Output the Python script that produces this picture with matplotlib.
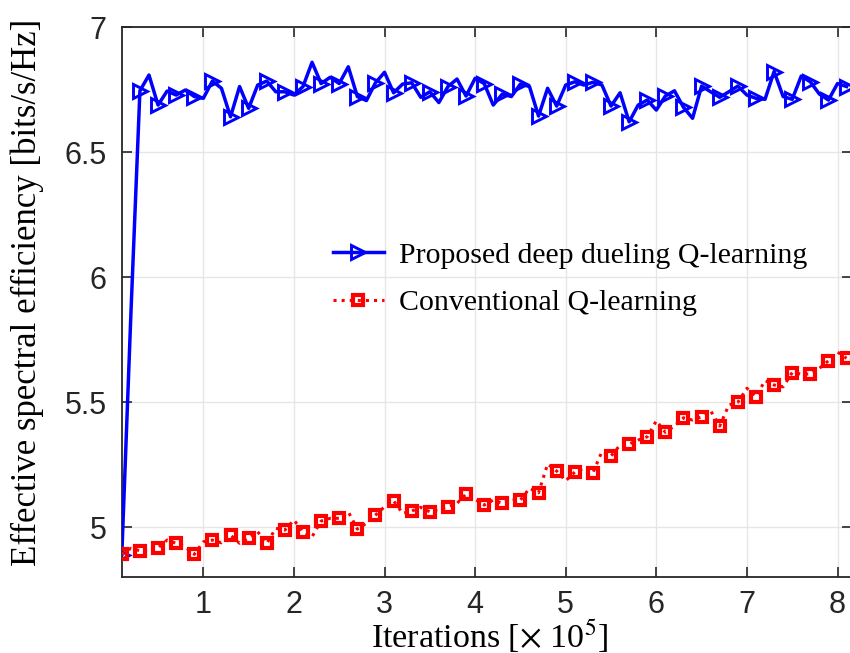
import numpy as np
import matplotlib
matplotlib.use("Agg")
import matplotlib.pyplot as plt

# x: iterations (x 10^5)
iterations = np.round(np.arange(0.1, 8.1001, 0.1), 1)

proposed = [4.89, 5.85, 6.746, 6.809, 6.689, 6.745, 6.729, 6.749, 6.723, 6.716,
            6.785, 6.756, 6.642, 6.763, 6.676, 6.769, 6.785, 6.742, 6.742, 6.729,
            6.763, 6.860, 6.775, 6.800, 6.775, 6.842, 6.723, 6.707, 6.778, 6.820,
            6.738, 6.773, 6.778, 6.720, 6.742, 6.699, 6.763, 6.793, 6.725, 6.796,
            6.775, 6.689, 6.733, 6.723, 6.773, 6.763, 6.645, 6.756, 6.685, 6.769,
            6.782, 6.769, 6.780, 6.769, 6.685, 6.738, 6.622, 6.689, 6.709, 6.669,
            6.725, 6.746, 6.680, 6.636, 6.765, 6.742, 6.720, 6.742, 6.765, 6.729,
            6.716, 6.712, 6.823, 6.723, 6.712, 6.805, 6.782, 6.733, 6.709, 6.775,
            6.763]

conventional = [4.893, 4.916, 4.906, 4.902, 4.918, 4.949, 4.936, 4.922, 4.892, 4.942,
                4.949, 4.938, 4.969, 4.936, 4.958, 4.982, 4.936, 4.996, 4.989, 5.029,
                4.982, 4.962, 5.025, 5.036, 5.036, 5.062, 4.993, 5.016, 5.049, 5.082,
                5.106, 5.056, 5.065, 5.080, 5.062, 5.072, 5.082, 5.096, 5.133, 5.112,
                5.089, 5.109, 5.096, 5.112, 5.109, 5.156, 5.138, 5.253, 5.225, 5.186,
                5.221, 5.236, 5.218, 5.303, 5.285, 5.329, 5.333, 5.349, 5.362, 5.426,
                5.380, 5.405, 5.438, 5.429, 5.442, 5.466, 5.405, 5.489, 5.500, 5.556,
                5.523, 5.587, 5.569, 5.562, 5.619, 5.613, 5.613, 5.636, 5.666, 5.701,
                5.676]

series_labels = ["Proposed deep dueling Q-learning", "Conventional Q-learning"]
x_ticks = [1, 2, 3, 4, 5, 6, 7, 8]
y_ticks = [5, 5.5, 6, 6.5, 7]
y_tick_labels = ["5", "5.5", "6", "6.5", "7"]

plt.rcParams['mathtext.fontset'] = 'stix'

fig = plt.figure(figsize=(8.5, 6.53), dpi=100)
W, H = 850, 653
left_px, right_px, top_px, bottom_px = 121.8, 852.0, 27.3, 577.3
ax_w, ax_h = right_px - left_px, bottom_px - top_px
ax = fig.add_axes([left_px / W, 1 - bottom_px / H, ax_w / W, ax_h / H])

ax.plot(iterations, proposed, color='#0000FF', lw=2.5, marker='>', markevery=2,
        markersize=10, markerfacecolor='none', markeredgewidth=2.1,
        label=series_labels[0], zorder=3)
ax.plot(iterations, conventional, color='#FF0000', lw=2.2, ls=':', marker='s',
        markevery=2, markersize=7, markerfacecolor='none', markeredgewidth=3.0,
        label=series_labels[1], zorder=4)

ax.set_xlim(0.1, 8.1 + (right_px - (203.3 + 7 * 90.6 + 9.06)) / 90.6)
ax.set_ylim(4.8, 7.0)
ax.set_xticks(x_ticks)
ax.set_xticklabels([str(v) for v in x_ticks])
ax.set_yticks(y_ticks)
ax.set_yticklabels(y_tick_labels)

ax.grid(True, color='#e6e6e6', lw=1.0)
ax.set_axisbelow(True)
for sp in ax.spines.values():
    sp.set_linewidth(1.3)
    sp.set_color('#262626')
ax.tick_params(direction='in', length=7, width=1.2, top=True, right=True,
               colors='#262626', labelsize=22, labelcolor='#262626')
ax.tick_params(axis='x', pad=9)
ax.tick_params(axis='y', pad=11)
for lab in ax.get_xticklabels() + ax.get_yticklabels():
    lab.set_fontfamily('Liberation Sans')

ax.set_xlabel("Iterations [$\\times$ 10$^{5}$]", fontsize=24.5, family='Liberation Serif')
ax.xaxis.set_label_coords((490 - left_px) / ax_w, -(636.5 - bottom_px) / ax_h)
ax.xaxis.label.set_va('center')
ax.set_ylabel("Effective spectral efficiency [bits/s/Hz]", fontsize=25,
              family='Liberation Serif')
ax.yaxis.set_label_coords((27 - left_px) / ax_w, 1 - (292.5 - top_px) / ax_h)
ax.yaxis.label.set_va('center')

leg = ax.legend(loc='upper left', bbox_to_anchor=((333 - left_px) / ax_w,
                                                  1 - (242 - top_px) / ax_h),
                frameon=False, prop={'family': 'Liberation Serif', 'size': 21.5},
                handlelength=1.7, handletextpad=0.5, labelspacing=0.68,
                borderaxespad=0, borderpad=0)

fig.savefig("out.png", dpi=100)
